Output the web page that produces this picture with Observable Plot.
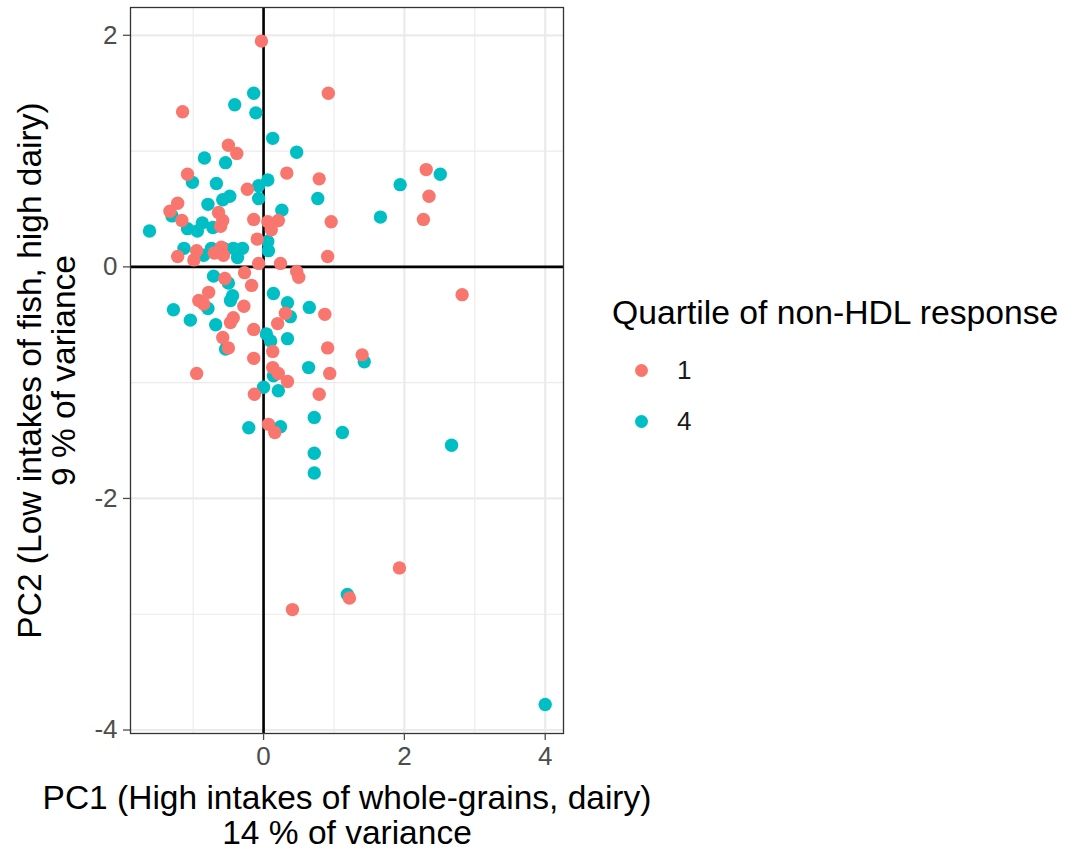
<!DOCTYPE html>
<html>
<head>
<meta charset="utf-8">
<script src="https://cdn.jsdelivr.net/npm/d3@7"></script>
<script src="https://cdn.jsdelivr.net/npm/@observablehq/plot@0.6"></script>
<style>
  body { margin: 0; background: #fff; }
  #wrap { position: relative; width: 1067px; height: 852px; font-family: "Liberation Sans", Arial, sans-serif; }
  #legend { position: absolute; left: 612px; top: 292px; color: #000; }
  #legend .title { font-size: 33.7px; line-height: 40px; white-space: nowrap; margin-bottom: 13px; }
  #legend .item { display: flex; align-items: center; height: 51px; font-size: 26px; color: #1a1a1a; }
  #legend .dot { width: 13px; height: 13px; border-radius: 50%; margin-left: 23px; margin-right: 29px; }
</style>
</head>
<body>
<div id="wrap"></div>
<script>
// Quartile 1 of non-HDL response
const q1x = [-0.03,0.92,-1.15,-0.50,-0.38,-1.08,0.33,0.79,-0.23,-1.22,-1.33,-0.64,-0.58,-0.61,-1.16,-0.14,0.06,0.21,0.11,0.96,2.31,2.35,2.27,-0.09,-1.22,-0.95,-0.99,-0.70,-0.57,-0.60,-0.07,0.24,0.91,-0.27,0.47,0.50,-0.55,-0.17,-0.78,-0.92,-0.85,-0.28,0.87,0.31,0.20,-0.43,-0.47,-0.14,-0.58,-0.50,0.13,0.91,1.40,-0.14,0.94,0.13,0.21,0.34,-0.95,-0.13,0.79,0.07,0.16,2.82,1.93,1.22,0.41];
const q1y = [1.95,1.50,1.34,1.05,0.98,0.80,0.81,0.76,0.67,0.55,0.48,0.47,0.40,0.35,0.40,0.41,0.39,0.40,0.32,0.39,0.84,0.61,0.41,0.24,0.09,0.14,0.06,0.12,0.10,0.17,0.03,0.03,0.09,-0.05,-0.04,-0.09,-0.10,-0.16,-0.22,-0.29,-0.32,-0.34,-0.41,-0.40,-0.49,-0.44,-0.48,-0.54,-0.61,-0.70,-0.73,-0.70,-0.76,-0.79,-0.92,-0.87,-0.92,-0.99,-0.92,-1.10,-1.10,-1.36,-1.43,-0.24,-2.60,-2.86,-2.96];
// Quartile 4 of non-HDL response
const q4x = [-0.14,-0.11,-0.41,0.13,0.47,-0.84,-0.54,-1.01,-0.67,-0.07,0.06,-0.07,-0.48,-0.58,-0.79,-1.30,0.26,0.77,1.94,2.51,1.66,-1.62,-1.08,-0.94,-0.87,-0.72,-1.13,-0.85,-0.74,-0.57,-0.43,-0.30,-0.37,0.07,0.06,-0.71,-0.50,-0.44,-0.47,-0.79,-1.28,-1.04,-0.68,-0.54,0.14,0.34,0.65,0.38,0.04,0.10,0.34,0.64,1.43,0.14,0.00,0.21,0.72,1.12,0.24,-0.21,0.72,0.72,2.67,1.19,4.00];
const q4y = [1.50,1.33,1.40,1.11,0.99,0.94,0.90,0.73,0.72,0.70,0.75,0.59,0.61,0.58,0.54,0.44,0.49,0.59,0.71,0.80,0.43,0.31,0.33,0.31,0.38,0.34,0.16,0.10,0.16,0.16,0.16,0.16,0.08,0.14,0.22,-0.08,-0.14,-0.25,-0.29,-0.36,-0.37,-0.46,-0.50,-0.71,-0.23,-0.31,-0.35,-0.43,-0.58,-0.64,-0.62,-0.87,-0.82,-0.94,-1.04,-1.07,-1.30,-1.43,-1.38,-1.39,-1.61,-1.78,-1.54,-2.83,-3.78];

const groups = ["1", "4"];
const colors = ["#F8766D", "#00BFC4"];
const xTicks = [0, 2, 4];
const yTicks = [-4, -2, 0, 2];
const xMinor = [-1, 1, 3];
const yMinor = [-3, -1, 1];
const xTitle = "PC1 (High intakes of whole-grains, dairy)\n14 % of variance";
const yTitle = "PC2 (Low intakes of fish, high dairy)\n9 % of variance";
const legendTitle = "Quartile of non-HDL response";

const data = [
  ...q4x.map((x, i) => ({x, y: q4y[i], q: "4"})),
  ...q1x.map((x, i) => ({x, y: q1y[i], q: "1"}))
];

const font = "'Liberation Sans', Arial, sans-serif";

const chart = Plot.plot({
  width: 1067,
  height: 852,
  marginLeft: 130,
  marginRight: 504,
  marginTop: 7,
  marginBottom: 119,
  style: {fontFamily: font, background: "#fff"},
  x: {domain: [-1.89, 4.26]},
  y: {domain: [-4.03, 2.24]},
  color: {domain: groups, range: colors},
  marks: [
    Plot.ruleX(xMinor, {stroke: "#EBEBEB", strokeWidth: 1.1}),
    Plot.ruleY(yMinor, {stroke: "#EBEBEB", strokeWidth: 1.1}),
    Plot.ruleX(xTicks, {stroke: "#EBEBEB", strokeWidth: 2.2}),
    Plot.ruleY(yTicks, {stroke: "#EBEBEB", strokeWidth: 2.2}),
    Plot.ruleX([0], {stroke: "#000", strokeWidth: 2.6}),
    Plot.ruleY([0], {stroke: "#000", strokeWidth: 2.6}),
    Plot.dot(data, {x: "x", y: "y", fill: "q", r: 6.7, stroke: null}),
    Plot.frame({stroke: "#333333", strokeWidth: 1.3}),
    Plot.axisX({ticks: xTicks, tickSize: 7, tickPadding: 6, fontSize: 26, color: "#4D4D4D", tickFormat: d => String(d), label: null, strokeWidth: 1.3}),
    Plot.axisY({ticks: yTicks, tickSize: 7, tickPadding: 6, fontSize: 26, color: "#4D4D4D", tickFormat: d => String(d), label: null, strokeWidth: 1.3}),
    Plot.text([xTitle], {frameAnchor: "bottom", dy: 82, lineAnchor: "middle", textAnchor: "middle", fontSize: 33.5, lineHeight: 1.02, fill: "#000"}),
    Plot.text([yTitle], {frameAnchor: "left", dx: -83, rotate: -90, lineAnchor: "middle", textAnchor: "middle", fontSize: 33.5, lineHeight: 1.0, fill: "#000"})
  ]
});

const wrap = document.getElementById("wrap");
wrap.appendChild(chart);

const legend = document.createElement("div");
legend.id = "legend";
const t = document.createElement("div");
t.className = "title";
t.textContent = legendTitle;
legend.appendChild(t);
groups.forEach((g, i) => {
  const item = document.createElement("div");
  item.className = "item";
  const d = document.createElement("span");
  d.className = "dot";
  d.style.background = colors[i];
  const l = document.createElement("span");
  l.textContent = g;
  item.appendChild(d);
  item.appendChild(l);
  legend.appendChild(item);
});
wrap.appendChild(legend);
</script>
</body>
</html>
